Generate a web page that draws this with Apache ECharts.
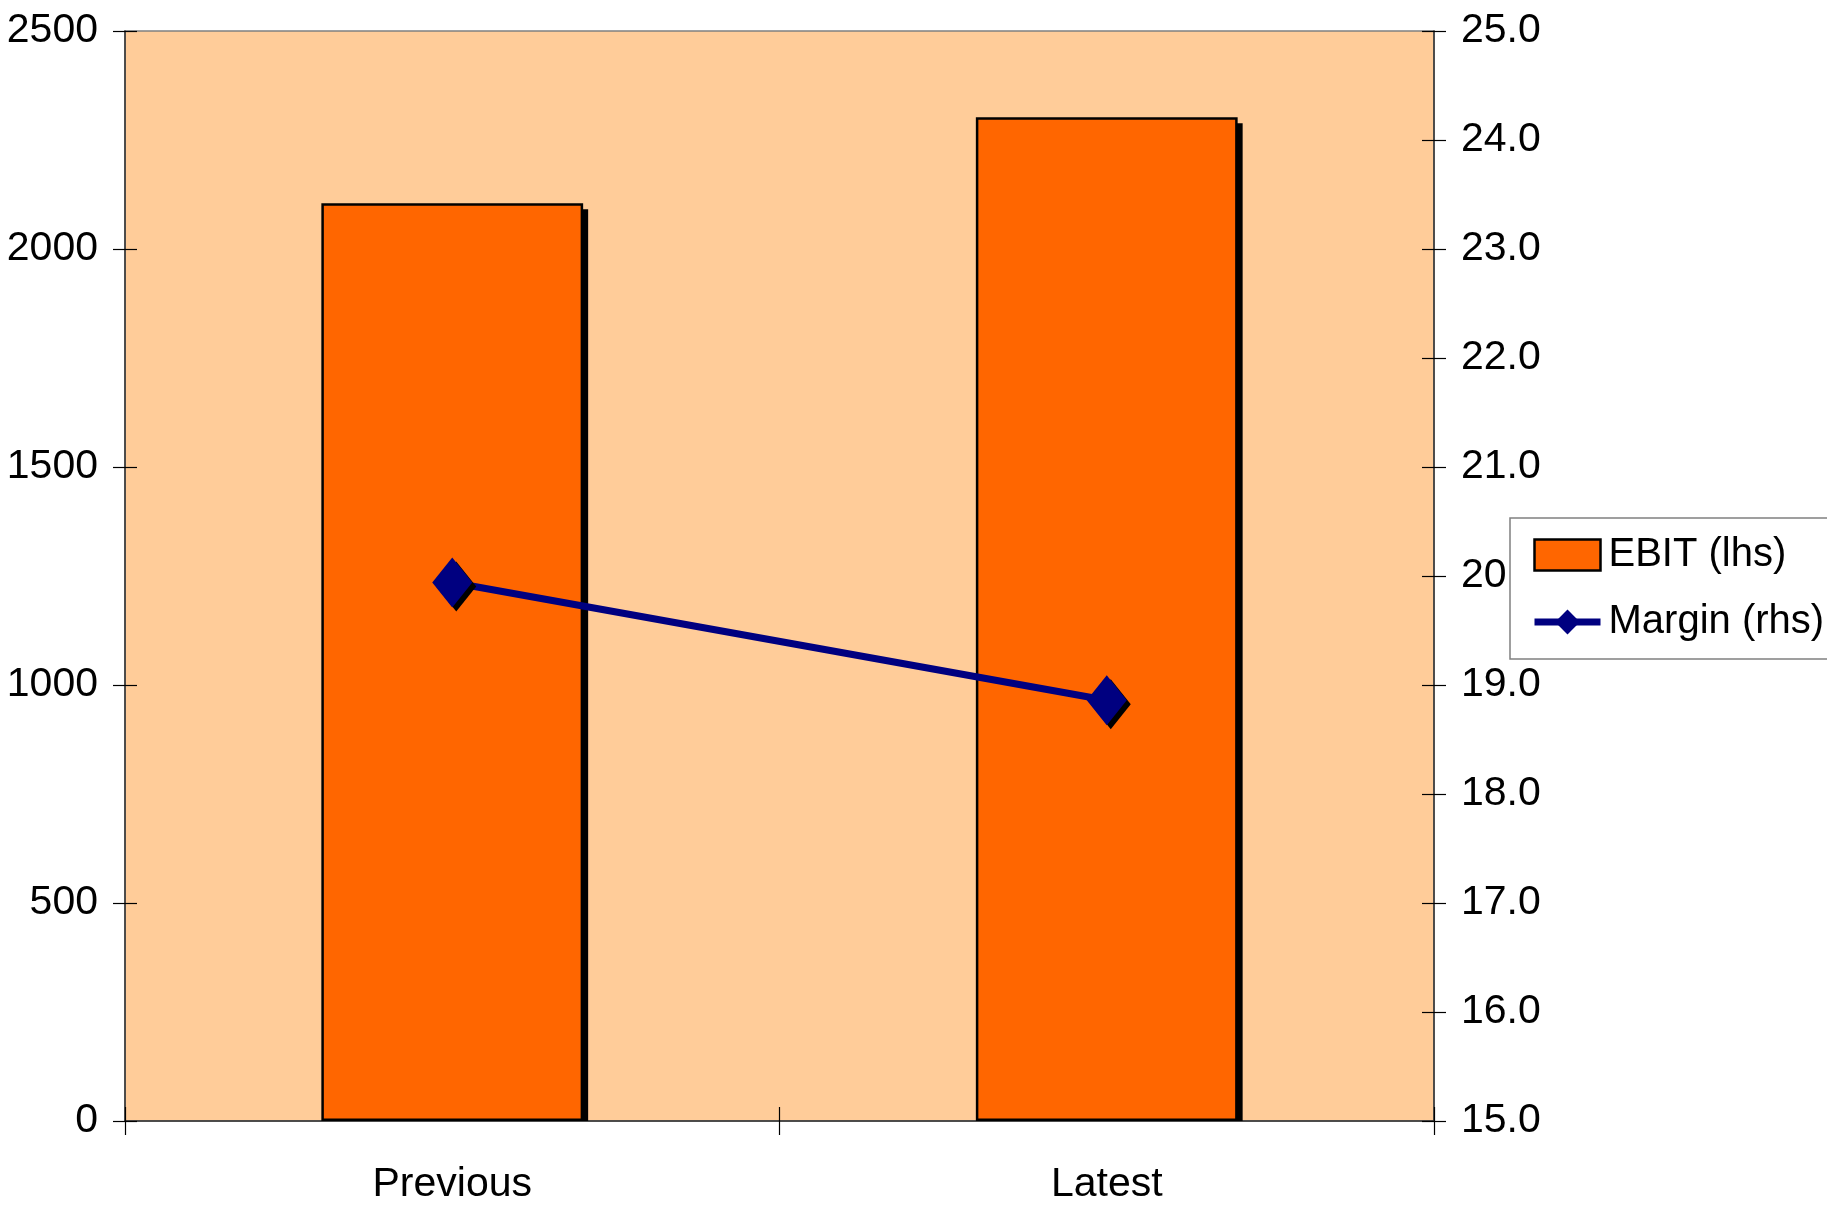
<!DOCTYPE html>
<html>
<head>
<meta charset="utf-8">
<script src="https://cdn.jsdelivr.net/npm/echarts@6/dist/echarts.min.js"></script>
<style>
html,body{margin:0;padding:0;background:#fff;}
#c{width:1827px;height:1208px;}
</style>
</head>
<body>
<div id="c"></div>
<script>
var categories = ['Previous', 'Latest'];
var ebit = [2105, 2302];
var margin = [19.94, 18.86];
var leftAxisMin = 0, leftAxisMax = 2500, leftAxisStep = 500;
var rightAxisMin = 15, rightAxisMax = 25, rightAxisStep = 1;

var FONT = "'Liberation Sans', Arial, sans-serif";
var BAR_FRAC = 0.4;
var chart = echarts.init(document.getElementById('c'), null, {renderer: 'canvas'});

function yAx(pos, min, max, step, inside, showLabel, fmt) {
  return {
    type: 'value', position: pos, min: min, max: max, interval: step,
    splitLine: {show: false},
    axisLine: {show: !inside, lineStyle: {color: '#333', width: 1.5}},
    axisTick: {show: true, inside: inside, length: 12, lineStyle: {color: '#000', width: 1.2}},
    axisLabel: {show: showLabel, margin: 27, fontSize: 41, color: '#000', fontFamily: FONT, formatter: fmt}
  };
}

var option = {
  backgroundColor: '#fff',
  animation: false,
  grid: {left: 125, right: 393, top: 31, bottom: 87, show: true, outerBoundsMode: 'none', containLabel: false,
         backgroundColor: '#FFCC99', borderColor: '#808080', borderWidth: 1.5},
  legend: {
    show: true, orient: 'vertical', left: 1510, top: 518,
    backgroundColor: '#fff', borderColor: '#808080', borderWidth: 1.5,
    padding: [17, 40, 17, 21], itemGap: 27, itemWidth: 66, itemHeight: 31,
    textStyle: {fontSize: 40, lineHeight: 40, color: '#000', fontFamily: FONT, padding: [0, 0, 0, 3]},
    data: [
      {name: 'EBIT (lhs)', icon: 'rect', itemStyle: {color: '#FF6600', borderColor: '#000', borderWidth: 2.5}},
      {name: 'Margin (rhs)', lineStyle: {color: '#000080', width: 7}}
    ]
  },
  xAxis: [{
    type: 'category', data: categories, position: 'bottom',
    axisLine: {show: true, lineStyle: {color: '#333', width: 1.5}},
    axisTick: {show: true, inside: false, length: 14, lineStyle: {color: '#000', width: 1.2}},
    axisLabel: {fontSize: 41, color: '#000', fontFamily: FONT, margin: 43},
    splitLine: {show: false}
  }, {
    type: 'category', data: categories, position: 'bottom',
    axisLine: {show: false},
    axisTick: {show: true, inside: true, length: 14, lineStyle: {color: '#000', width: 1.2}},
    axisLabel: {show: false},
    splitLine: {show: false}
  }],
  yAxis: [
    yAx('left', leftAxisMin, leftAxisMax, leftAxisStep, false, true, function (v) { return String(v); }),
    yAx('right', rightAxisMin, rightAxisMax, rightAxisStep, false, true, function (v) { return v.toFixed(1); }),
    yAx('left', leftAxisMin, leftAxisMax, leftAxisStep, true, false),
    yAx('right', rightAxisMin, rightAxisMax, rightAxisStep, true, false)
  ],
  series: [{
    name: 'EBIT shadow', type: 'custom', xAxisIndex: 0, yAxisIndex: 0, clip: true, silent: true,
    data: ebit.map(function (v, i) { return [i, v]; }),
    renderItem: function (params, api) {
      var top = api.coord([api.value(0), api.value(1)]);
      var base = api.coord([api.value(0), 0]);
      var w = api.size([1, 0])[0] * BAR_FRAC;
      return {
        type: 'rect',
        shape: {x: top[0] - w / 2 + 5, y: top[1] + 6, width: w, height: base[1] - top[1]},
        style: {fill: '#000'}
      };
    }
  }, {
    name: 'EBIT (lhs)', type: 'bar', xAxisIndex: 0, yAxisIndex: 0, data: ebit,
    barWidth: (BAR_FRAC * 100) + '%', barGap: '-100%',
    itemStyle: {color: '#FF6600', borderColor: '#000', borderWidth: 2.5}
  }, {
    name: 'Margin (rhs)', type: 'line', xAxisIndex: 0, yAxisIndex: 1, data: margin,
    symbol: 'diamond', symbolSize: [40, 50], z: 5,
    lineStyle: {color: '#000080', width: 7},
    itemStyle: {color: '#000080', shadowColor: '#000', shadowBlur: 0, shadowOffsetX: 4, shadowOffsetY: 4}
  }]
};
chart.setOption(option);
</script>
</body>
</html>
